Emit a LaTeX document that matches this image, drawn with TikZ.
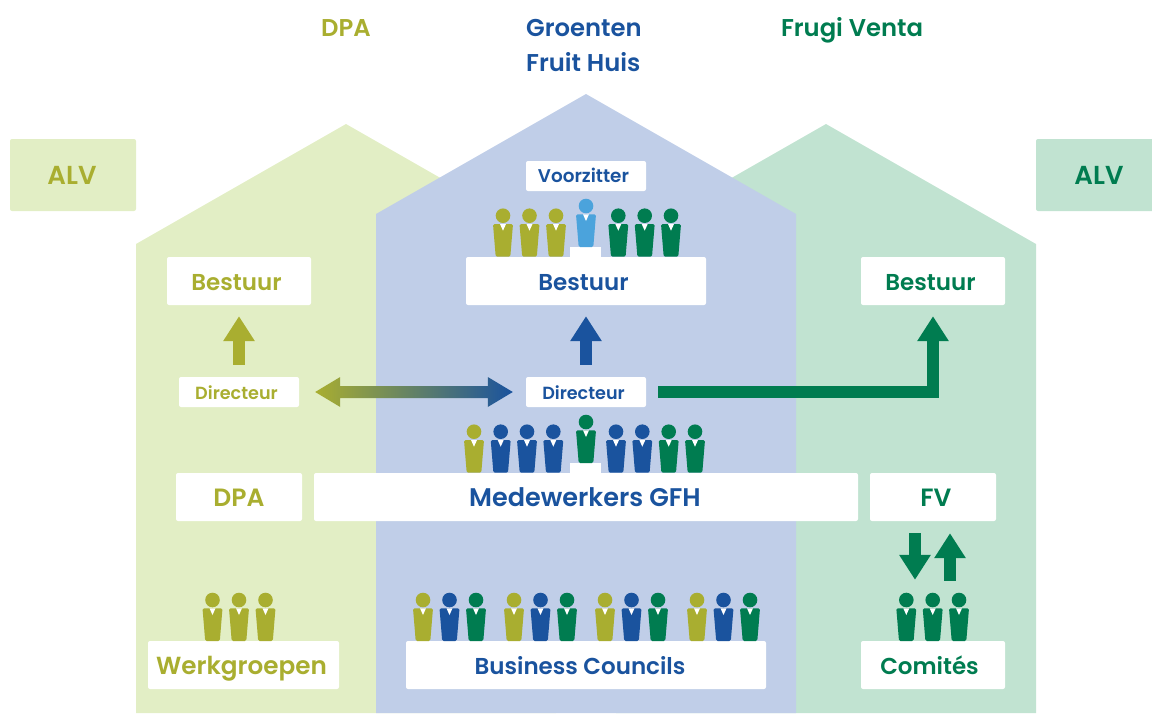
\documentclass[tikz,border=0pt]{standalone}
\usepackage{fontspec}
\setmainfont{Poppins SemiBold}
\usetikzlibrary{arrows.meta,calc}
\definecolor{oliveC}{HTML}{A9AE30}
\definecolor{blueC}{HTML}{1A539E}
\definecolor{greenC}{HTML}{007C50}
\definecolor{skyC}{HTML}{4BA3DC}
\definecolor{paleolive}{HTML}{E2EEC5}
\definecolor{paleblue}{HTML}{C0CEE8}
\definecolor{palegreen}{HTML}{C1E3D1}
\newcommand{\person}[3]{%
  \fill[#3] (#1,#2) circle (7.3);
  \fill[#3,rounded corners=1.5pt] ($(#1,#2)+(-10,8.3)$) -- ($(#1,#2)+(10,8.3)$) -- ($(#1,#2)+(7.3,41)$) -- ($(#1,#2)+(-7.3,41)$) -- cycle;
  \fill[white] ($(#1,#2)+(-3,8.3)$) -- ($(#1,#2)+(3,8.3)$) -- ($(#1,#2)+(0,15)$) -- cycle;
}
\newcommand{\fsz}[1]{\fontsize{#1}{#1}\selectfont}
\tikzset{
  bigbox/.style={fill=white,rounded corners=2pt,inner sep=0pt,font=\fsz{23},text height=19pt,text depth=0pt},
  smallbox/.style={fill=white,rounded corners=2pt,inner sep=0pt,font=\fsz{17.6},text height=14pt,text depth=0pt,minimum width=120pt,minimum height=30pt},
  title/.style={inner sep=0pt,font=\fsz{24.3},text height=17pt,text depth=0pt},
  bigarrow/.style={line width=12pt,-{Triangle[width=30pt,length=25pt]}},
}
\begin{document}
\begin{tikzpicture}[x=1pt,y=-1pt]
  \useasboundingbox (0,0) rectangle (1152,713);

  %houses
  \fill[paleolive] (136,713) -- (136,244) -- (346,124) -- (556,244) -- (556,713) -- cycle;
  \fill[palegreen] (616,713) -- (616,244) -- (826,124) -- (1036,244) -- (1036,713) -- cycle;
  \fill[paleblue] (376,713) -- (376,214) -- (586,94) -- (796,214) -- (796,713) -- cycle;

  %titles
  \node[title,text=oliveC] (tdpa) at (346,28) {DPA};
  \node[title,text=blueC,anchor=west] (tgfha) at (526,28) {Groenten};
  \node[title,text=blueC,anchor=west] (tgfhb) at (526,63) {Fruit Huis};
  \node[title,text=greenC] (tfv) at (852,28) {Frugi Venta};

  %general meetings
  \node[bigbox,font=\fsz{26},fill=paleolive,text=oliveC,minimum width=126pt,minimum height=72pt] (alvl) at (73,175) {ALV\kern2pt};
  \node[bigbox,font=\fsz{26},fill=palegreen,text=greenC,minimum width=126pt,minimum height=72pt] (alvr) at (1099,175) {ALV};

  %boards
  \node[bigbox,text=oliveC,minimum width=144pt,minimum height=48pt] (bdpa) at (239,281) {Bestuur\kern5pt};
  \node[bigbox,text=blueC,minimum width=240pt,minimum height=48pt] (bgfh) at (586,281) {Bestuur\kern5pt};
  \node[bigbox,text=greenC,minimum width=144pt,minimum height=48pt] (bfv) at (933,281) {Bestuur\kern5pt};
  \node[smallbox,font=\fsz{18.4},text height=13pt,text=blueC] (vz) at (586,176) {Voorzitter\kern5pt};

  %directors
  \node[smallbox,text=oliveC] (ddpa) at (239,392) {Directeur\kern5pt};
  \node[smallbox,text=blueC] (dgfh) at (586,392) {Directeur\kern5pt};

  %staff
  \node[bigbox,font=\fsz{25},text=oliveC,minimum width=126pt,minimum height=48pt] (sdpa) at (239,497) {DPA};
  \node[bigbox,font=\fsz{25.5},text=blueC,minimum width=544pt,minimum height=48pt] (sgfh) at (586,497) {Medewerkers GFH\kern2pt};
  \node[bigbox,font=\fsz{25},text=greenC,minimum width=126pt,minimum height=48pt] (sfv) at (933,497) {\kern6pt FV};

  %working groups
  \node[bigbox,font=\fsz{24.7},text=oliveC,minimum width=191pt,minimum height=48pt] (wdpa) at (243.5,665) {Werkgroepen\kern4pt};
  \node[bigbox,text=blueC,minimum width=360pt,minimum height=48pt] (wgfh) at (586,665) {Business Councils\kern12pt};
  \node[bigbox,text=greenC,minimum width=144pt,minimum height=48pt] (wfv) at (933,665) {Comités\kern7pt};

  %podiums
  \fill[white] (570,247) rectangle (601,258);
  \fill[white] (570,463) rectangle (601,474);

  %board members
  \foreach \px in {503,529.5,556} {\person{\px}{215.7}{oliveC}}
  \foreach \px in {618.3,644.7,671} {\person{\px}{215.7}{greenC}}
  \person{586}{206}{skyC}

  %staff members
  \person{474}{431.7}{oliveC}
  \foreach \px in {500.7,527,553.3,616,642.3} {\person{\px}{431.7}{blueC}}
  \foreach \px in {668.7,695} {\person{\px}{431.7}{greenC}}
  \person{586}{422}{greenC}

  %bottom row
  \foreach \px in {212.5,239,265.5} {\person{\px}{600}{oliveC}}
  \foreach \px in {906.3,932.7,959} {\person{\px}{600}{greenC}}
  \foreach \px in {423,514,605,697} {
    \person{\px}{600}{oliveC}
    \person{\px+26.5}{600}{blueC}
    \person{\px+53}{600}{greenC}
  }

  %arrows
  \draw[bigarrow,oliveC,shorten >=11pt,shorten <=12pt] (ddpa.north) -- (bdpa.south);
  \draw[bigarrow,blueC,shorten >=11pt,shorten <=12pt] (dgfh.north) -- (bgfh.south);
  \draw[bigarrow,greenC,shorten >=11pt,shorten <=12pt] (dgfh.east) -| (bfv.south);
  \draw[bigarrow,greenC,shorten >=61pt,shorten <=12pt] ([xshift=-18pt]sfv.south) -- ([xshift=-18pt]wfv.north);
  \draw[bigarrow,greenC,shorten >=12pt,shorten <=60pt] ([xshift=17pt]wfv.north) -- ([xshift=17pt]sfv.south);

  %double arrow between directors
  \coordinate (lnka) at ($(ddpa.east)+(16,0)$);
  \coordinate (lnkb) at ($(dgfh.west)+(-13,0)$);
  \shade[left color=oliveC,right color=blueC] (lnka) -- ($(lnka)+(25,-15)$) -- ($(lnka)+(25,-6)$) -- ($(lnkb)+(-25,-6)$) -- ($(lnkb)+(-25,-15)$) -- (lnkb) -- ($(lnkb)+(-25,15)$) -- ($(lnkb)+(-25,6)$) -- ($(lnka)+(25,6)$) -- ($(lnka)+(25,15)$) -- cycle;
\end{tikzpicture}
\end{document}
